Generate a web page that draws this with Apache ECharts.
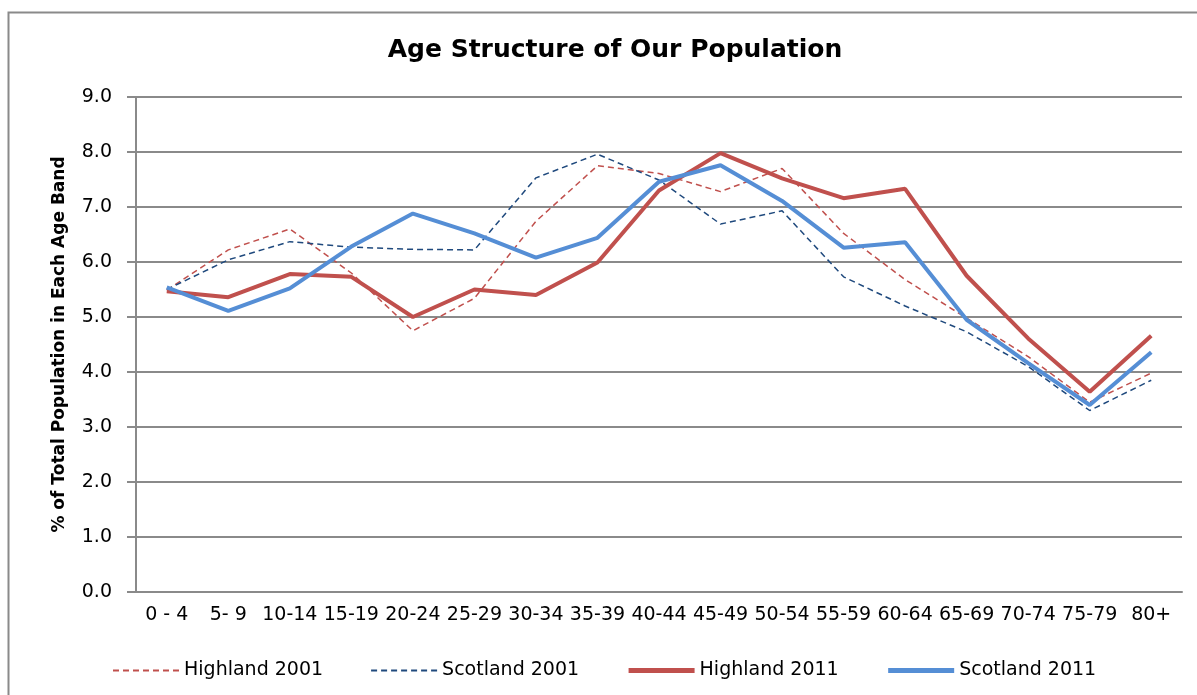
<!DOCTYPE html>
<html lang="en">
    <head>
        <meta charset="UTF-8" />
        <script src="https://cdn.jsdelivr.net/npm/echarts@6/dist/echarts.min.js"></script>
        <title>Age Structure of Our Population</title>
        <style>
            body {
                margin: 0;
                background: #fff;
            }

            #chart {
                width: 1197px;
                height: 695px;
            }
        </style>
    </head>

    <body>
        <div id="chart"></div>
        <script type="text/javascript">
            var ageBands = ["0 - 4", "5- 9", "10-14", "15-19", "20-24", "25-29", "30-34", "35-39", "40-44",
                "45-49", "50-54", "55-59", "60-64", "65-69", "70-74", "75-79", "80+"];

            var highland2001 = [5.49, 6.22, 6.60, 5.80, 4.75, 5.34, 6.74, 7.75, 7.61, 7.28, 7.70, 6.52, 5.68, 4.98, 4.28, 3.45, 3.98];
            var scotland2001 = [5.50, 6.04, 6.37, 6.27, 6.23, 6.22, 7.53, 7.96, 7.49, 6.69, 6.93, 5.73, 5.20, 4.73, 4.10, 3.30, 3.85];
            var highland2011 = [5.47, 5.36, 5.78, 5.73, 5.00, 5.50, 5.40, 5.99, 7.30, 7.98, 7.52, 7.16, 7.33, 5.75, 4.61, 3.64, 4.66];
            var scotland2011 = [5.54, 5.11, 5.52, 6.28, 6.88, 6.52, 6.08, 6.44, 7.46, 7.76, 7.11, 6.26, 6.36, 4.95, 4.16, 3.40, 4.36];

            var font = "DejaVu Sans";
            var chart = echarts.init(document.getElementById("chart"));

            function line(name, data, color, width, dashed) {
                return {
                    name: name,
                    type: "line",
                    data: data,
                    symbol: "none",
                    animation: false,
                    lineStyle: {
                        color: color,
                        width: width,
                        type: dashed ? [6, 4] : "solid",
                    },
                    itemStyle: { color: color },
                };
            }

            var option = {
                backgroundColor: "#fff",
                graphic: [
                    {
                        // outer chart frame
                        type: "rect",
                        shape: { x: 8.5, y: 12.5, width: 1200, height: 700 },
                        style: { fill: null, stroke: "#8a8a8a", lineWidth: 2 },
                        silent: true,
                    },
                ],
                title: {
                    text: "Age Structure of Our Population",
                    left: 610,
                    textAlign: "center",
                    top: 33,
                    textStyle: {
                        fontFamily: font,
                        fontWeight: "bold",
                        fontSize: 25,
                        color: "#000",
                    },
                },
                legend: {
                    left: 107,
                    top: 656,
                    itemWidth: 66,
                    itemHeight: 22,
                    itemGap: 47,
                    itemStyle: { opacity: 0 },
                    textStyle: { fontFamily: font, fontSize: 19, color: "#000" },
                    data: [
                        { name: "Highland 2001", lineStyle: { width: 2 } },
                        { name: "Scotland 2001", lineStyle: { width: 2 } },
                        { name: "Highland 2011", lineStyle: { width: 5 } },
                        { name: "Scotland 2011", lineStyle: { width: 5 } },
                    ],
                },
                grid: {
                    left: 136,
                    right: 15,
                    top: 97,
                    bottom: 103,
                },
                xAxis: {
                    type: "category",
                    data: ageBands,
                    boundaryGap: true,
                    axisLine: { lineStyle: { color: "#8a8a8a", width: 2 } },
                    axisTick: { length: 7, lineStyle: { color: "#8a8a8a", width: 2 } },
                    axisLabel: {
                        interval: 0,
                        margin: 14,
                        fontFamily: font,
                        fontSize: 19,
                        color: "#000",
                    },
                },
                yAxis: {
                    type: "value",
                    min: 0,
                    max: 9,
                    interval: 1,
                    name: "% of Total Population in Each Age Band",
                    nameLocation: "middle",
                    nameRotate: 90,
                    nameGap: 68,
                    nameTextStyle: {
                        fontFamily: font,
                        fontWeight: "bold",
                        fontSize: 17,
                        color: "#000",
                    },
                    axisLine: { show: true, lineStyle: { color: "#8a8a8a", width: 2 } },
                    axisTick: { show: true, length: 9, lineStyle: { color: "#8a8a8a", width: 2 } },
                    axisLabel: {
                        margin: 24,
                        fontFamily: font,
                        fontSize: 19,
                        color: "#000",
                        formatter: function (v) {
                            return v.toFixed(1);
                        },
                    },
                    splitLine: { lineStyle: { color: "#8a8a8a", width: 2 } },
                },
                series: [
                    line("Highland 2001", highland2001, "#c0504d", 1.5, true),
                    line("Scotland 2001", scotland2001, "#1f497d", 1.5, true),
                    line("Highland 2011", highland2011, "#c0504d", 4, false),
                    line("Scotland 2011", scotland2011, "#558ed5", 4, false),
                ],
            };

            chart.setOption(option);
        </script>
    </body>
</html>
